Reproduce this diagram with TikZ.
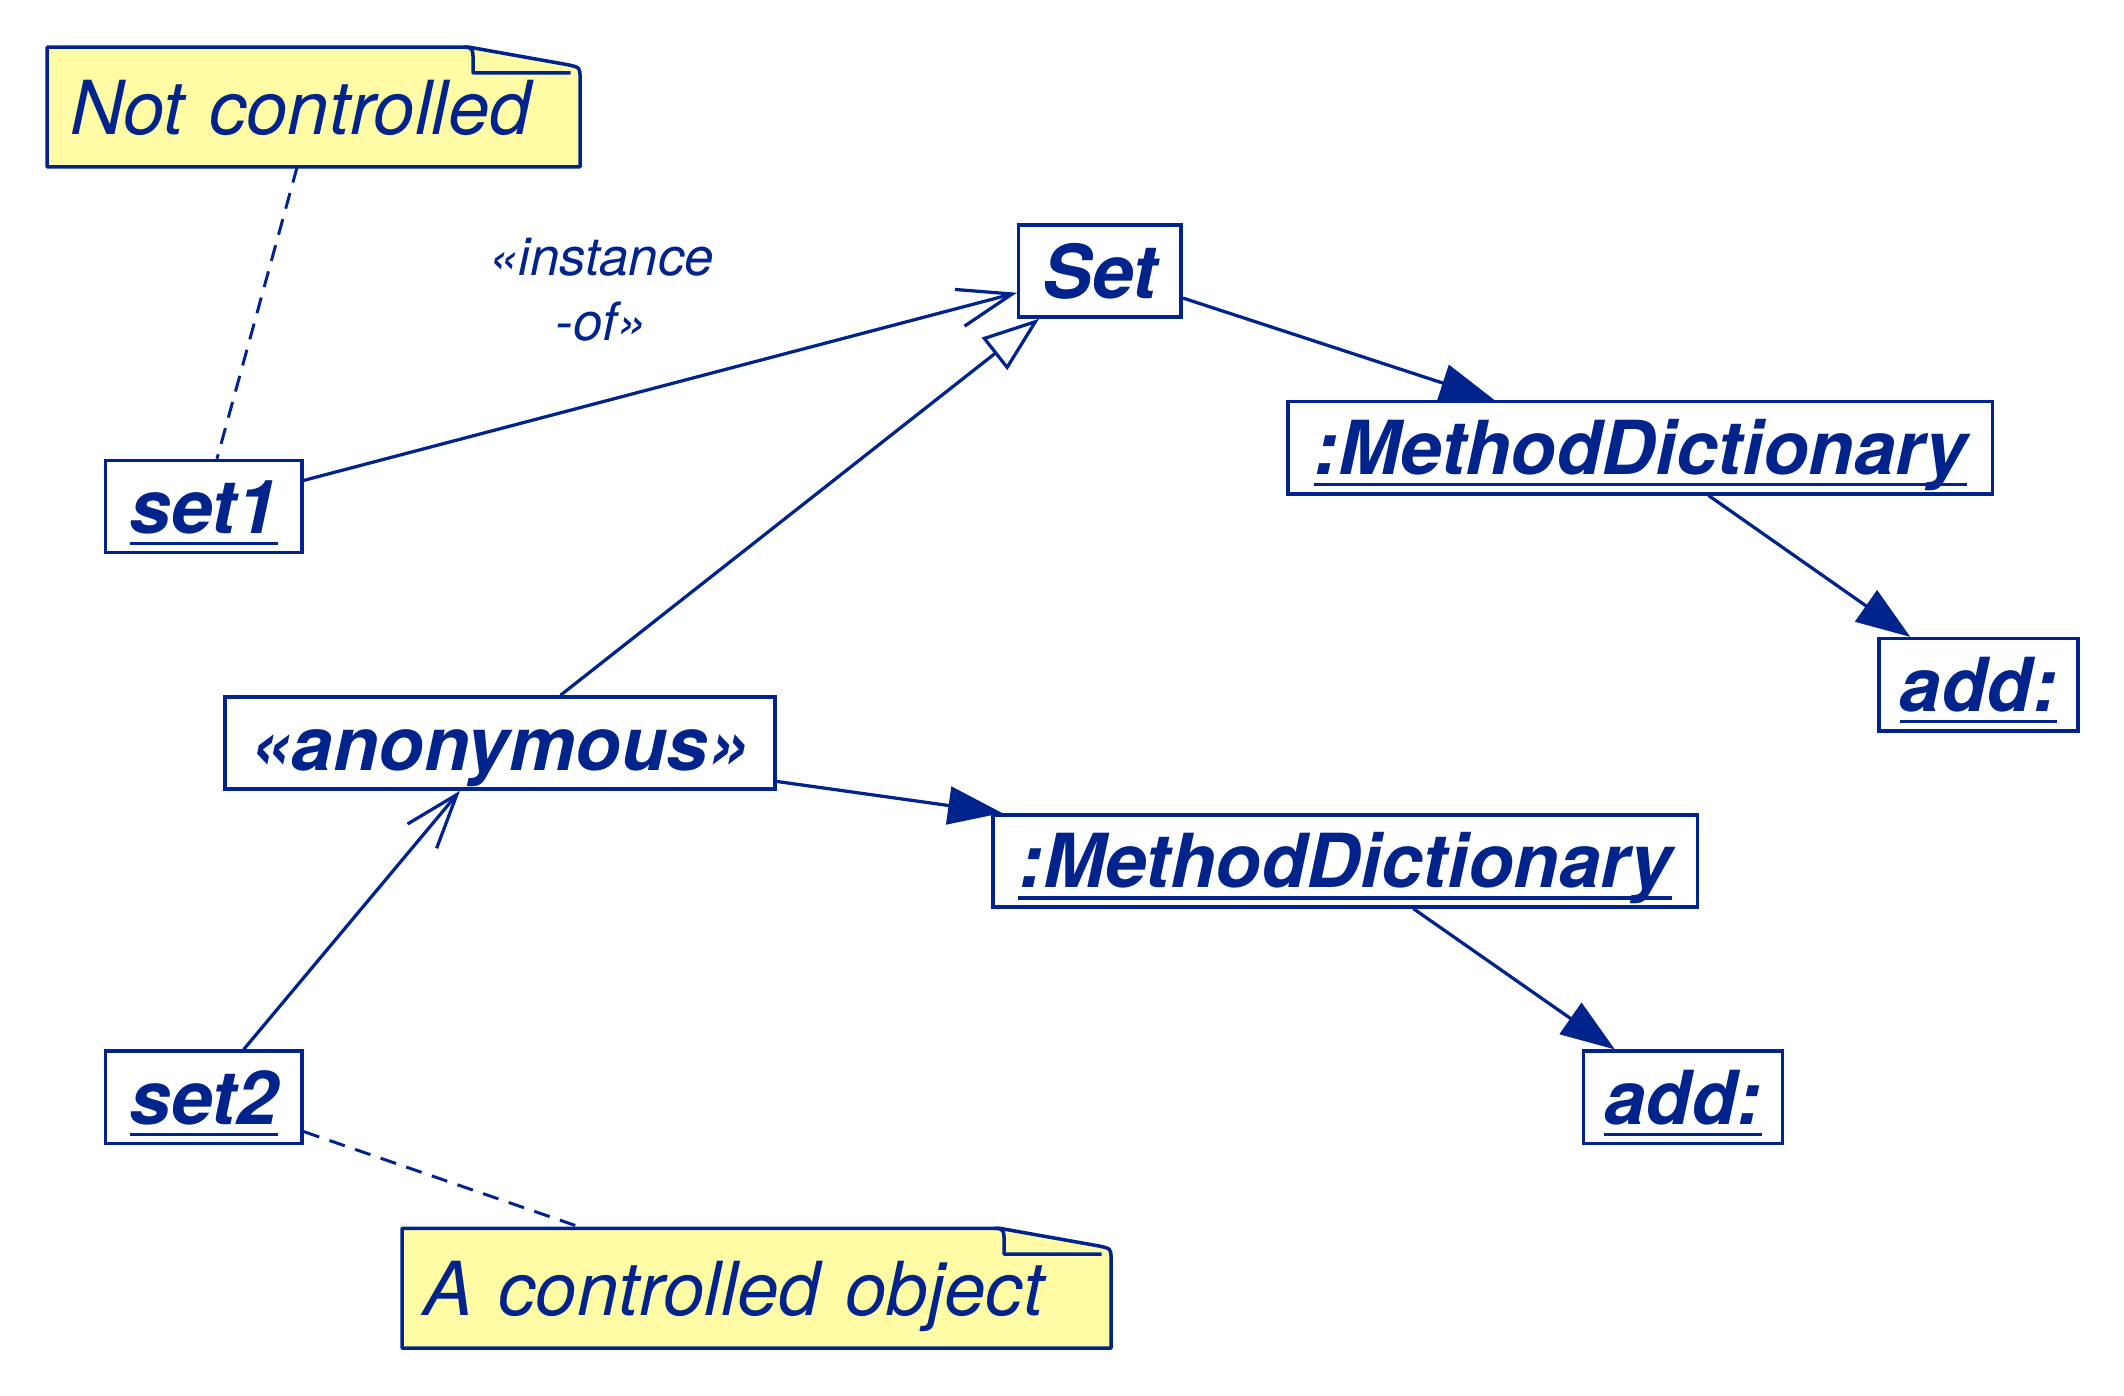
\documentclass[tikz,border=0pt]{standalone}
\usepackage{fontspec}
\setmainfont{TeX Gyre Heros}
\usetikzlibrary{arrows.meta,calc}
\definecolor{umlblue}{RGB}{0,35,140}
\definecolor{noteyellow}{RGB}{255,252,165}
\newcommand\ulw[1]{\setbox0\hbox{#1}\rlap{\rule[-8.6pt]{\wd0}{2.4pt}}\box0}
\pgfdeclarelayer{bg}
\pgfsetlayers{bg,main}
\begin{document}
\begin{tikzpicture}[x=1pt,y=-1pt,color=umlblue,
  obj/.style={draw=umlblue,fill=white,line width=2.6pt,inner sep=0pt,text=umlblue,
    font=\fontsize{55}{60}\selectfont\bfseries\itshape,
    text height=40pt,text depth=0pt,minimum height=68pt},
  notebox/.style={inner sep=0pt,text=umlblue,align=left,
    font=\fontsize{55}{60}\selectfont\itshape,
    text height=40pt,text depth=0pt,minimum height=88pt},
  noteline/.style={draw=umlblue,fill=noteyellow,line width=2.6pt,line join=round},
  foldline/.style={draw=umlblue,line width=2.6pt,line join=round},
  link/.style={draw=umlblue,line width=2.4pt},
  dashlink/.style={draw=umlblue,dash pattern=on 12pt off 8pt,line width=2.2pt},
  openarr/.style={link,-{Straight Barb[length=40pt,width=28pt]}},
  genarr/.style={link,-{Triangle[open,length=42pt,width=30pt,fill=white]}},
  fillarr/.style={link,-{Triangle[length=40pt,width=28pt]}}]
\useasboundingbox (0,0) rectangle (1568,1030);

% notes
\node[notebox,minimum width=393pt,text width=359pt] (note1) at (231.5,79) {Not controlled};
\node[notebox,minimum width=523pt,text width=491pt] (note2) at (558.5,951) {A controlled object};
\begin{pgfonlayer}{bg}
\foreach \n in {note1,note2}{
  \path[noteline] (\n.south west) -- (\n.north west) -- ($(\n.north east)+(-82,0)$)
    -- ($(\n.north east)+(-9,13)$) .. controls ($(\n.north east)+(0,15)$) .. ($(\n.north east)+(0,23)$)
    -- (\n.south east) -- cycle;
  \path[foldline] ($(\n.north east)+(-86,0)$) .. controls ($(\n.north east)+(-79,0)$) and ($(\n.north east)+(-79,2)$) .. ($(\n.north east)+(-79,9)$)
    -- ($(\n.north east)+(-79,19)$) -- ($(\n.north east)+(-7,19)$);
}
\end{pgfonlayer}

% objects
\node[obj,minimum width=120pt] (set) at (812,200) {Set};
\node[obj,minimum width=145pt] (set1) at (150.5,374) {\ulw{set1}};
\node[obj,minimum width=520pt] (md1) at (1211,330.5) {\ulw{:MethodDictionary}};
\node[obj,minimum width=147pt] (add1) at (1460.5,505.5) {\ulw{add:}};
\node[obj,minimum width=406pt] (anon) at (369,548.5) {«anonymous»};
\node[obj,minimum width=520pt] (md2) at (993,635.5) {\ulw{:MethodDictionary}};
\node[obj,minimum width=147pt] (add2) at (1242.5,810) {\ulw{add:}};
\node[obj,minimum width=145pt] (set2) at (150.5,810) {\ulw{set2}};

\node[font=\fontsize{39}{48}\selectfont\itshape,align=center,text=umlblue,inner sep=0pt] (lbl) at (444,214) {«instance\\-of»};

% connectors
\draw[openarr] (set1) -- (set);
\draw[genarr] (anon) -- (set);
\draw[fillarr] (set) -- (md1);
\draw[fillarr] (md1) -- (add1);
\draw[fillarr] (anon) -- (md2);
\draw[fillarr] (md2) -- (add2);
\draw[openarr] (set2) -- (anon);
\draw[dashlink] (note1) -- (set1);
\draw[dashlink] (set2) -- (note2);
\end{tikzpicture}
\end{document}
